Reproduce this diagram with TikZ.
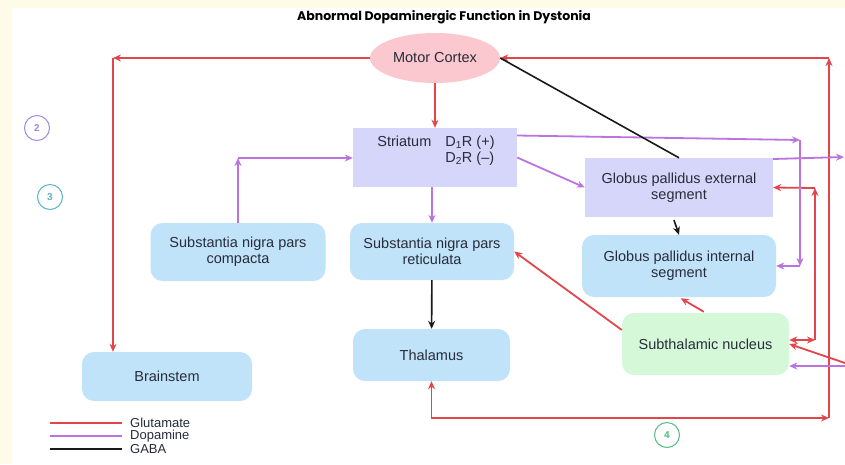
\documentclass[tikz,border=0pt]{standalone}
\usepackage{fontspec}
\setmainfont{Liberation Sans}
\newfontfamily\titlefont{Poppins}
\usetikzlibrary{arrows.meta,positioning,shapes.geometric}
\definecolor{glu}{RGB}{226,70,74}
\definecolor{dopa}{RGB}{186,115,224}
\definecolor{gaba}{RGB}{25,25,25}
\definecolor{softpink}{RGB}{250,200,206}
\definecolor{softlav}{RGB}{214,214,250}
\definecolor{softblue}{RGB}{192,227,250}
\definecolor{softgreen}{RGB}{212,248,216}
\definecolor{cream}{RGB}{255,251,233}
\definecolor{ink}{RGB}{40,44,58}
\definecolor{numpurple}{RGB}{160,140,225}
\definecolor{numteal}{RGB}{90,180,200}
\definecolor{numgreen}{RGB}{80,190,125}

\begin{document}
\begin{tikzpicture}[x=1pt,y=-1pt,
    every node/.style={font=\fontsize{14.5}{16}\selectfont,text=ink,align=center},
    ell/.style={ellipse,fill=softpink,minimum width=130pt,minimum height=50pt,inner sep=0pt},
    sq/.style={fill=softlav,inner sep=0pt},
    rbox/.style={fill=softblue,rounded corners=12pt,inner sep=0pt},
    lgd/.style={anchor=west,inner sep=0pt,font=\fontsize{13}{13}\selectfont},
    glu/.style={draw=glu,line width=1.8pt},
    dopa/.style={draw=dopa,line width=1.8pt},
    gaba/.style={draw=gaba,line width=1.6pt},
    num/.style={circle,draw=#1,line width=1pt,minimum size=25pt,inner sep=0pt,
      text=#1,font=\fontsize{10}{11}\selectfont\bfseries},
    >={Stealth[length=8pt,width=7pt]}]
  \useasboundingbox (0,0) rectangle (845,464);
  \fill[white] (0,0) rectangle (845,464);
  \fill[cream] (0,0) rectangle (845,8);
  \fill[cream] (0,0) rectangle (12,464);

  % title
  \node[font=\titlefont\fontsize{12.5}{14}\selectfont\bfseries,text=black] (title) at (444,17) {Abnormal Dopaminergic Function in Dystonia};

  % nodes
  \node[ell] (mc) at (435,58) {Motor Cortex};
  \node[sq,minimum width=164pt,minimum height=59pt] (str) at (435,157.5) {};
  \node (strl) at (436,151) {\begin{tabular}{@{}l@{\hspace{14pt}}l@{}}Striatum & D\textsubscript{1}R (+)\\ & D\textsubscript{2}R (--)\end{tabular}};
  \node[sq,minimum width=188pt,minimum height=59pt] (gpe) at (679,187.5) {Globus pallidus external\\segment};
  \node[rbox,minimum width=194pt,minimum height=62pt] (gpi) at (679,266) {Globus pallidus internal\\segment};
  \node[rbox,fill=softgreen,minimum width=167pt,minimum height=62pt] (stn) at (705.5,344) {Subthalamic nucleus};
  \node[rbox,minimum width=175pt,minimum height=58pt] (snc) at (238,252) {Substantia nigra pars\\compacta};
  \node[rbox,minimum width=164pt,minimum height=57pt] (snr) at (432,251.5) {Substantia nigra pars\\reticulata};
  \node[rbox,minimum width=157pt,minimum height=52pt] (th) at (431.5,355) {Thalamus};
  \node[rbox,minimum width=170pt,minimum height=49pt] (bs) at (167,376.5) {Brainstem};

  % numbers
  \node[num=numpurple] (n2) at (37,128) {2};
  \node[num=numteal] (n3) at (50,197) {3};
  \node[num=numgreen] (n4) at (667,435) {4};

  % corners
  \coordinate (c1) at (113,58);
  \coordinate (c3) at (829,418);
  \coordinate (c4) at (829,58);
  \coordinate (c5) at (815,188);
  \coordinate (c6) at (815,340);
  \coordinate (c7) at (845,363);
  \coordinate (c8) at (238,158);
  \coordinate (c9) at (800,140);
  \coordinate (c10) at (800,266);
  \coordinate (c11) at (844,157);
  \coordinate (c12) at (845,366);

  % glutamate
  \draw[glu,->] (mc) -- (str);
  \draw[glu,->] (mc.west) -- (c1);
  \draw[glu,->] (c1) -- (c1 |- bs.north);
  \draw[glu,<->] (th.south) |- (c3);
  \draw[glu,->] (c3) -- (c4);
  \draw[glu,->] (c4) -- (mc.east);
  \draw[glu,->] (c5) -- (gpe.east);
  \draw[glu,->] (c6) -- (c5);
  \draw[glu,<->] (c6) -- (stn.east |- c6);
  \draw[glu,->] (c7) -- (stn.east);
  \draw[glu,->,shorten <=2pt,shorten >=2pt] (stn.north) -- (gpi.south);
  \draw[glu,->] ([yshift=14pt]stn.west) -- (snr.east);

  % dopamine
  \draw[dopa,->] (snc.north) -- (c8);
  \draw[dopa,->] (c8) -- (c8 -| str.west);
  \draw[dopa,->] (str.south -| snr) -- (snr.north);
  \draw[dopa,->] (str.east) -- (gpe.west);
  \draw[dopa,->] ([yshift=22pt]str.east) -- (c9);
  \draw[dopa,->] (c9) -- (c10);
  \draw[dopa,->] (c10) -- (gpi.east);
  \draw[dopa,->] ([yshift=28.5pt]gpe.east) -- (c11);
  \draw[dopa,->] (c12) -- ([yshift=-22pt]stn.east);

  % GABA
  \draw[gaba] (mc.east) -- (gpe.north);
  \draw[gaba,->,shorten <=3pt] ([xshift=-6pt]gpe.south) -- (gpi.north);
  \draw[gaba,->] (snr) -- (th);

  % legend
  \node[lgd] (lg1) at (130,423) {Glutamate};
  \node[lgd] (lg2) at (130,436) {Dopamine};
  \node[lgd] (lg3) at (130,449) {GABA};
  \coordinate (l1) at (50,423);
  \coordinate (l2) at (50,436);
  \coordinate (l3) at (50,449);
  \draw[glu] (l1) -- ([xshift=-8pt]lg1.west);
  \draw[dopa] (l2) -- ([xshift=-8pt]lg2.west);
  \draw[gaba,line width=1.8pt] (l3) -- ([xshift=-8pt]lg3.west);
\end{tikzpicture}
\end{document}
